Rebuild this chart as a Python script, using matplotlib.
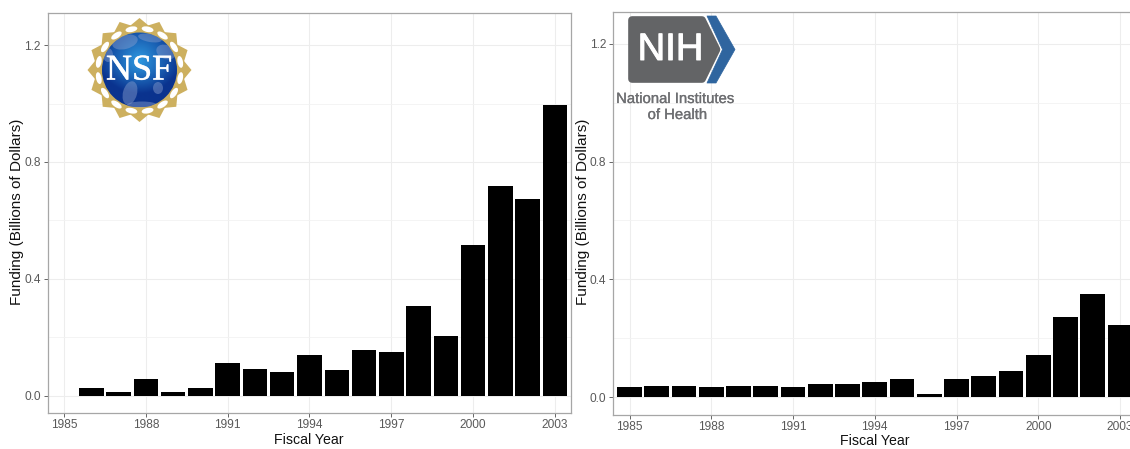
import numpy as np
import matplotlib
matplotlib.use("Agg")
import matplotlib.pyplot as plt
import matplotlib.patheffects as pe
from matplotlib.patches import Polygon, Circle, Ellipse

plt.rcParams['font.family'] = ['Liberation Sans', 'DejaVu Sans']

nsf_years = list(range(1986, 2004))
nsf_funding = [0.025, 0.012, 0.055, 0.013, 0.027, 0.112, 0.090, 0.082, 0.138,
               0.088, 0.155, 0.150, 0.305, 0.203, 0.517, 0.717, 0.673, 0.995]
nih_years = list(range(1985, 2004))
nih_funding = [0.033, 0.038, 0.038, 0.035, 0.038, 0.038, 0.035, 0.043, 0.043, 0.052,
               0.060, 0.010, 0.062, 0.072, 0.088, 0.143, 0.272, 0.350, 0.245]
x_ticks = [1985, 1988, 1991, 1994, 1997, 2000, 2003]
x_labels = ['1985', '1988', '1991', '1994', '1997', '2000', '2003']
y_ticks = [0.0, 0.4, 0.8, 1.2]
y_labels = ['0.0', '0.4', '0.8', '1.2']
y_minor = [0.2, 0.6, 1.0]
x_label = 'Fiscal Year'
y_label = 'Funding (Billions of Dollars)'

W, H = 1130, 449
fig = plt.figure(figsize=(W / 100, H / 100), dpi=100, facecolor='white')


def make_panel(box, xlim, ylim, years, values, xlab_xy, ylab_xy):
    l, t, r, b = box
    ax = fig.add_axes([l / W, 1 - b / H, (r - l) / W, (b - t) / H])
    ax.bar(years, values, width=0.9, color='black', zorder=3)
    ax.set_xlim(*xlim)
    ax.set_ylim(*ylim)
    ax.set_xticks(x_ticks, x_labels)
    ax.set_yticks(y_ticks, y_labels)
    ax.set_yticks(y_minor, minor=True)
    ax.grid(True, which='major', color='#ededed', lw=0.8, zorder=0)
    ax.grid(True, which='minor', axis='y', color='#f2f2f2', lw=0.6, zorder=0)
    ax.tick_params(axis='both', which='major', length=3, width=0.7, color='#666666',
                   labelcolor='#595959', labelsize=8.6, pad=2)
    ax.tick_params(axis='x', which='major', pad=1.5)
    ax.tick_params(axis='both', which='minor', length=0)
    for s in ax.spines.values():
        s.set_color('#a6a6a6')
        s.set_linewidth(0.9)
    fig.text(xlab_xy[0] / W, 1 - xlab_xy[1] / H, x_label, ha='center', va='center',
             fontsize=10.2, color='#111111')
    fig.text(ylab_xy[0] / W, 1 - ylab_xy[1] / H, y_label, ha='center', va='center',
             rotation=90, fontsize=11, color='#111111')
    return ax


make_panel((47.5, 13, 571, 413), (1985 - 16.5 / 27.28, 2003 + 16 / 27.28),
           (-17.5 / 292, 382.5 / 292), nsf_years, nsf_funding, (309, 440), (17, 212))
make_panel((613, 12, 1137, 415), (1985 - 16.5 / 27.25, 1985 + 507.5 / 27.25),
           (-18 / 294.2, 385 / 294.2), nih_years, nih_funding, (875, 441), (583, 212))

# logo overlay in pixel coordinates
ov = fig.add_axes([0, 0, 1, 1], facecolor='none', zorder=10)
ov.set_xlim(0, W)
ov.set_ylim(H, 0)
ov.axis('off')

# NSF logo
cx, cy = 139.5, 70
n = 16
ang = np.linspace(0, 2 * np.pi, 2 * n, endpoint=False) + np.pi / 2
rad = np.where(np.arange(2 * n) % 2 == 0, 52, 45.5)
ov.add_patch(Polygon(np.c_[cx + rad * np.cos(ang), cy + rad * np.sin(ang)],
                     fc='#cdb05f', ec='none'))
ov.add_patch(Circle((cx, cy), 45.5, fc='#cdb05f', ec='none'))
for a in ang[1::2]:
    ov.add_patch(Ellipse((cx + 41.5 * np.cos(a), cy + 41.5 * np.sin(a)), 5.5, 12,
                         angle=np.degrees(a), fc='white', ec='none'))
yy, xx = np.mgrid[-1:1:160j, -1:1:160j]
d = np.sqrt(xx ** 2 + (yy + 0.25) ** 2)
t = np.clip(d / 1.1 + 0.30 * np.clip(yy, 0, 1), 0, 1)[..., None]
c0 = np.array([0.18, 0.60, 0.88])
c1 = np.array([0.04, 0.20, 0.56])
globe = c0 * (1 - t) + c1 * t
r = 37.5
clip = Circle((cx, cy), r, transform=ov.transData)
im = ov.imshow(globe, extent=(cx - r, cx + r, cy + r, cy - r),
               aspect='auto', zorder=2, interpolation='bilinear')
im.set_clip_path(clip)
ov.set_xlim(0, W)
ov.set_ylim(H, 0)
for ex, ey, ew, eh, rot in [(125, 42, 26, 14, -15), (150, 38, 24, 8, 10), (166, 52, 20, 14, 20),
                            (108, 55, 10, 14, 0), (130, 93, 14, 24, 15), (142, 105, 30, 7, 0),
                            (158, 88, 10, 12, 0)]:
    e = Ellipse((ex, ey), ew, eh, angle=rot, fc='#8aa0cf', ec='none', alpha=0.45, zorder=3)
    ov.add_patch(e)
    e.set_clip_path(Circle((cx, cy), r, transform=ov.transData))
ov.text(139, 71, 'NSF', family='Liberation Serif', fontsize=26, color='white',
        ha='center', va='center', zorder=4,
        path_effects=[pe.withStroke(linewidth=0.4, foreground='#f4f6fb')])

# NIH logo
ov.add_patch(Polygon([(632, 20), (702, 20), (716.5, 49.5), (702, 79), (632, 79)],
                     fc='#636466', ec='#636466', lw=5.5, joinstyle='round'))
ov.add_patch(Polygon([(707, 16), (716, 16), (735, 49.5), (716, 83), (707, 83), (722.5, 49.5)],
                     fc='#2f659f', ec='#2f659f', lw=0.5, joinstyle='round'))
ov.text(670.5, 50, 'NIH', fontsize=27.5, color='white', ha='center', va='center',
        path_effects=[pe.withStroke(linewidth=0.7, foreground='white')])
thick = [pe.withStroke(linewidth=0.2, foreground='#6d6e71')]
ov.text(675.5, 99, 'National Institutes', fontsize=10.7, color='#6d6e71', ha='center',
        va='center', path_effects=thick)
ov.text(677.5, 115, 'of Health', fontsize=10.7, color='#6d6e71', ha='center', va='center',
        path_effects=thick)

fig.savefig('out.png', dpi=100)
